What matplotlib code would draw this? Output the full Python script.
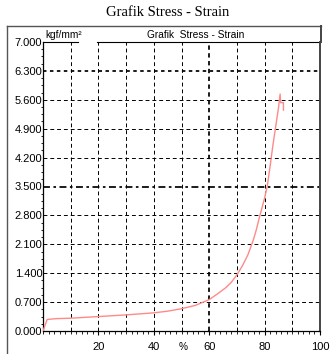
import matplotlib
matplotlib.use('Agg')
import matplotlib.pyplot as plt
from matplotlib.lines import Line2D
import numpy as np

# data
strain = [0, 1.5, 5, 10, 20, 30, 40, 45, 50, 55, 60, 63, 66, 68, 70, 72, 74,
          76, 77, 78, 79, 80, 81, 82, 83, 84, 85, 85.6, 85.8, 86.8, 86.8]
stress = [0, 0.28, 0.30, 0.31, 0.35, 0.39, 0.44, 0.48, 0.54, 0.62, 0.76, 0.90,
          1.05, 1.18, 1.36, 1.58, 1.85, 2.22, 2.45, 2.72, 2.97, 3.22, 3.52,
          4.00, 4.50, 4.95, 5.40, 5.74, 5.53, 5.53, 5.35]

y_ticks = [0.0, 0.7, 1.4, 2.1, 2.8, 3.5, 4.2, 4.9, 5.6, 6.3, 7.0]
x_ticks = [20, 40, 60, 80, 100]
x_grid = [10, 20, 30, 40, 50, 60, 70, 80, 90]
special_y = {3.5: (0, (4, 2, 1.5, 2)), 6.3: (0, (2, 2))}
special_x = 60

W, H = 336, 354
plt.rcParams['font.family'] = ['Liberation Sans', 'DejaVu Sans']
fig = plt.figure(figsize=(W / 100, H / 100), dpi=100)
fig.patch.set_facecolor('white')

ax = fig.add_axes([43 / W, 23 / H, 277 / W, 289 / H])
ax.set_xlim(0, 100)
ax.set_ylim(0, 7.0)

# grid lines
for yv in y_ticks[1:-1]:
    if yv in special_y:
        ax.axhline(yv, color='black', lw=1.25, ls=special_y[yv], zorder=1)
    else:
        ax.axhline(yv, color='black', lw=0.7, ls=(0, (4, 3)), zorder=1)
for xv in x_grid:
    if xv == special_x:
        ax.axvline(xv, color='black', lw=1.25, ls=(0, (2.5, 2)), zorder=1)
    else:
        ax.axvline(xv, color='black', lw=0.7, ls=(0, (4, 3)), zorder=1)

ax.plot(strain, stress, color='#ff8a8a', lw=1.0, zorder=3)

ax.set_yticks(y_ticks)
ax.set_yticklabels(['%.3f' % v for v in y_ticks], fontsize=8)
ax.set_xticks(x_ticks)
ax.set_xticklabels([str(v) for v in x_ticks], fontsize=8)
ax.set_xticks(np.arange(0, 101, 2), minor=True)
ax.set_yticks(np.arange(0, 7.01, 0.175), minor=True)
ax.tick_params(axis='x', which='major', length=3, pad=5, width=0.8)
ax.tick_params(axis='x', which='minor', length=2, width=0.6)
ax.tick_params(axis='y', which='major', length=0, pad=0.5)
ax.tick_params(axis='y', which='minor', length=1.5, width=0.6)

ax.spines['top'].set_visible(False)
ax.spines['right'].set_color('#444444')
ax.spines['right'].set_linewidth(1.4)
ax.spines['left'].set_linewidth(0.9)
ax.spines['bottom'].set_linewidth(0.9)

# broken top border of the plot area
ax.plot([0, 35 / 277], [1, 1], color='black', lw=0.8, transform=ax.transAxes, clip_on=False)
ax.plot([54 / 277, 1], [1, 1], color='black', lw=0.8, transform=ax.transAxes, clip_on=False)

# outer panel frame
fx = lambda p: p / W
fy = lambda p: 1 - p / H
fig.add_artist(Line2D([fx(7), fx(7)], [0, fy(26)], color='#555555', lw=1.0))
fig.add_artist(Line2D([fx(7), fx(321)], [fy(26), fy(26)], color='#555555', lw=1.0))
fig.add_artist(Line2D([fx(320.5), fx(320.5)], [fy(26), fy(42)], color='#444444', lw=1.4))

fig.text(0.5, fy(12), 'Grafik Stress - Strain', family='Liberation Serif',
         fontsize=10.5, ha='center', va='center')
fig.text(fx(196), fy(35), 'Grafik  Stress - Strain', fontsize=7.3,
         ha='center', va='center')
fig.text(fx(45), fy(35), 'kgf/mm²', fontsize=7.3, ha='left', va='center')
fig.text(fx(183), fy(347), '%', fontsize=7.3, ha='center', va='center')

fig.savefig('out.png', dpi=100)
